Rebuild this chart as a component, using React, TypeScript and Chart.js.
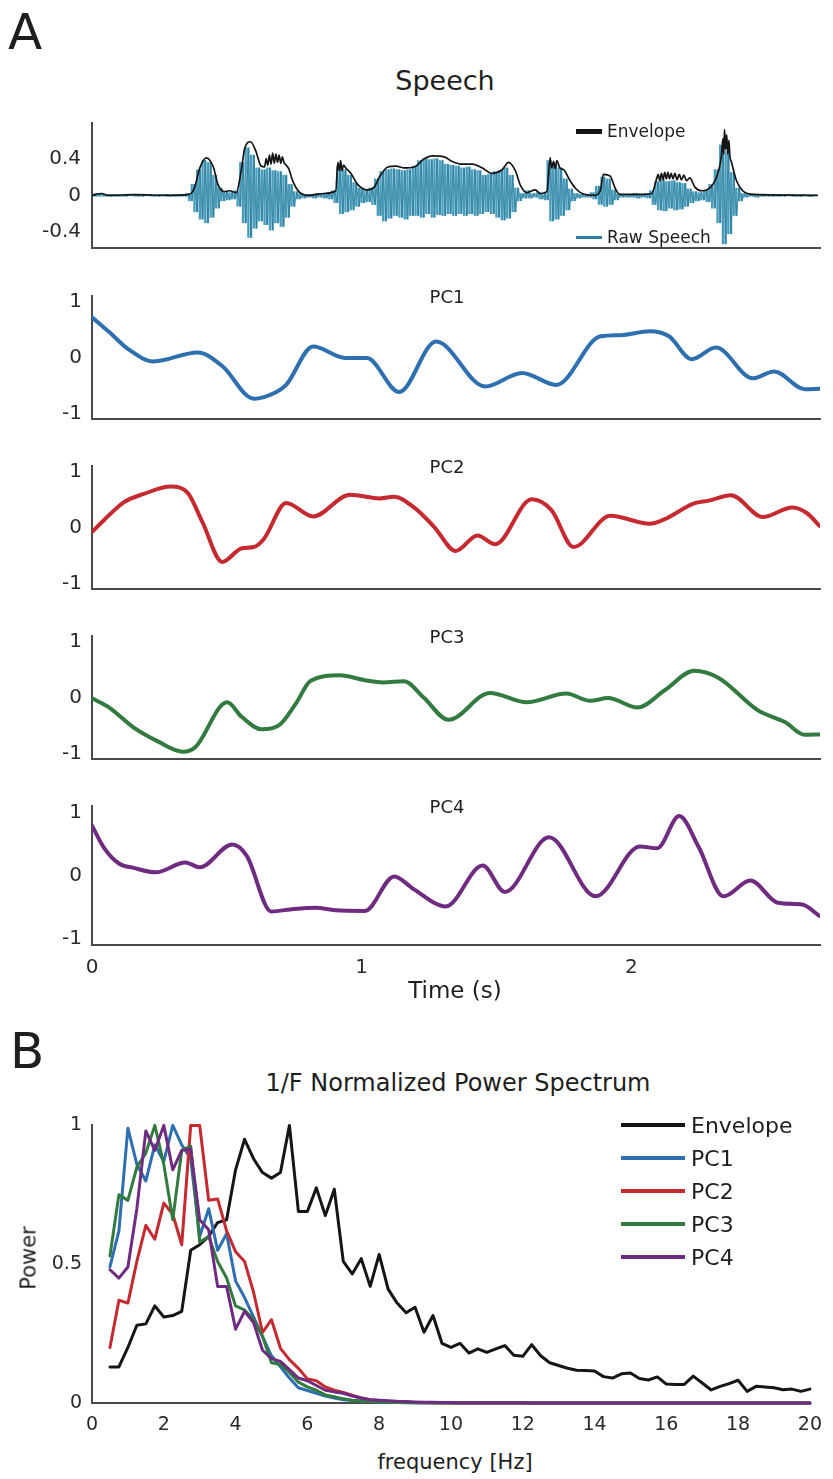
import React, { useEffect, useRef } from "react";
import { Chart, registerables } from "chart.js";
Chart.register(...registerables);

// ---------------- data ----------------
const TIME_TICKS = [0, 1, 2];
const SPEECH_TICKS = [-0.4, 0, 0.4];
const PC_TICKS = [-1, 0, 1];

// raw speech, decimated peak/trough sequence, one value every RAW_DT seconds
const RAW_DT = 0.01;
const RAW_SPEECH = [
  0.005, -0.01, 0.02, -0.01, 0.02, -0.01, 0.01, -0.01, 0.01, -0.01,
  0.01, -0.01, 0.005, -0.01, 0.01, -0.005, 0.01, -0.01, 0.005, -0.01,
  0.01, -0.005, 0.01, -0.01, 0.005, -0.01, 0.01, -0.005, 0.01, -0.01,
  0.005, -0.01, 0.01, -0.01, 0.01, -0.01, 0.02, -0.06, 0.12, -0.18,
  0.28, -0.26, 0.38, -0.3, 0.36, -0.24, 0.22, -0.14, 0.08, -0.06,
  0.04, -0.05, 0.03, -0.04, 0.05, -0.12, 0.36, -0.3, 0.52, -0.46,
  0.44, -0.36, 0.3, -0.28, 0.28, -0.32, 0.3, -0.38, 0.27, -0.3,
  0.26, -0.34, 0.22, -0.24, 0.12, -0.12, 0.04, -0.04, 0.02, -0.03,
  0.01, -0.02, 0.01, -0.03, 0.02, -0.02, 0.02, -0.03, 0.03, -0.04,
  0.05, -0.08, 0.32, -0.2, 0.28, -0.18, 0.22, -0.16, 0.14, -0.12,
  0.08, -0.08, 0.06, -0.07, 0.08, -0.1, 0.18, -0.22, 0.26, -0.28,
  0.28, -0.25, 0.29, -0.22, 0.28, -0.24, 0.27, -0.26, 0.28, -0.22,
  0.32, -0.22, 0.38, -0.24, 0.4, -0.2, 0.39, -0.24, 0.4, -0.21,
  0.38, -0.22, 0.34, -0.2, 0.33, -0.22, 0.32, -0.2, 0.3, -0.22,
  0.31, -0.2, 0.28, -0.22, 0.27, -0.2, 0.22, -0.18, 0.23, -0.2,
  0.26, -0.24, 0.27, -0.27, 0.3, -0.25, 0.22, -0.18, 0.08, -0.06,
  0.02, -0.03, 0.05, -0.03, 0.02, -0.02, 0.03, -0.04, 0.02, -0.05,
  0.38, -0.28, 0.33, -0.26, 0.3, -0.22, 0.18, -0.16, 0.07, -0.06,
  0.02, -0.03, 0.01, -0.02, 0.01, -0.02, 0.03, -0.04, 0.1, -0.1,
  0.2, -0.12, 0.18, -0.1, 0.06, -0.05, 0.01, -0.02, 0.01, -0.02,
  0.01, -0.02, 0.02, -0.03, 0.01, -0.02, 0.02, -0.03, 0.05, -0.1,
  0.15, -0.16, 0.17, -0.17, 0.15, -0.14, 0.16, -0.16, 0.14, -0.15,
  0.13, -0.12, 0.07, -0.08, 0.04, -0.06, 0.03, -0.05, 0.05, -0.07,
  0.12, -0.14, 0.28, -0.3, 0.55, -0.53, 0.48, -0.42, 0.25, -0.22,
  0.08, -0.06, 0.02, -0.02, 0.01, -0.01, 0.01, -0.02, 0.01, -0.01,
  0.01, -0.01, 0.005, -0.01, 0.01, -0.01, 0.005, -0.01, 0.01, -0.005,
  0.01, -0.01, 0.005, -0.01, 0.01, -0.005, 0.005, -0.01, 0.005, -0.005,
];

const ENV_T = [
  0, 0.036, 0.06, 0.16, 0.28, 0.36, 0.38, 0.4, 0.424, 0.45, 0.467, 0.49, 0.51, 0.535,
  0.554, 0.566, 0.588, 0.608, 0.627, 0.64, 0.646, 0.652, 0.658, 0.664, 0.67, 0.676, 0.682, 0.688, 0.694, 0.7, 0.706, 0.712, 0.72,
  0.73, 0.744, 0.769, 0.8, 0.862, 0.904, 0.912, 0.917, 0.922, 0.927, 0.933, 0.941, 0.96, 0.985,
  1.022, 1.047, 1.066, 1.097, 1.127, 1.158, 1.195, 1.232, 1.263, 1.306, 1.336, 1.373,
  1.41, 1.447, 1.484, 1.521, 1.545, 1.57, 1.589, 1.613, 1.644, 1.662, 1.687, 1.699, 1.705, 1.712, 1.718, 1.724, 1.735,
  1.749, 1.773, 1.792, 1.817, 1.866, 1.885, 1.897, 1.922, 1.94, 1.958, 2.026, 2.076,
  2.094, 2.1, 2.106, 2.112, 2.118, 2.124, 2.13, 2.136, 2.142, 2.148, 2.155, 2.162, 2.17, 2.178, 2.186, 2.195, 2.205, 2.217,
  2.236, 2.26, 2.291, 2.315, 2.334, 2.34, 2.343, 2.346, 2.35, 2.354, 2.358, 2.362, 2.366, 2.371, 2.389, 2.414, 2.457, 2.69,
];
const ENV_V = [
  0, 0.02, 0, 0.008, 0, 0.01, 0.08, 0.3, 0.41, 0.31, 0.12, 0.04, 0.05, 0.03,
  0.28, 0.51, 0.585, 0.48, 0.32, 0.31, 0.4, 0.33, 0.44, 0.34, 0.46, 0.35, 0.45, 0.36, 0.44, 0.35, 0.42, 0.36, 0.33,
  0.29, 0.16, 0.035, 0, 0.02, 0.05, 0.36, 0.27, 0.38, 0.27, 0.33, 0.3, 0.24, 0.12,
  0.06, 0.09, 0.2, 0.31, 0.32, 0.3, 0.31, 0.4, 0.43, 0.42, 0.37, 0.34,
  0.34, 0.3, 0.24, 0.28, 0.36, 0.27, 0.11, 0.03, 0.06, 0.02, 0.04, 0.41, 0.3, 0.37, 0.29, 0.38, 0.3,
  0.28, 0.16, 0.08, 0.02, 0, 0.05, 0.23, 0.21, 0.08, 0.01, 0.01, 0.02,
  0.18, 0.23, 0.16, 0.24, 0.17, 0.25, 0.18, 0.25, 0.18, 0.24, 0.18, 0.24, 0.17, 0.23, 0.17, 0.22, 0.16, 0.19,
  0.09, 0.05, 0.08, 0.19, 0.42, 0.62, 0.45, 0.72, 0.5, 0.66, 0.45, 0.6, 0.42, 0.37, 0.17, 0.05, 0.01, 0,
];

const PC1_T = [0, 0.064, 0.137, 0.228, 0.392, 0.483, 0.6, 0.684, 0.72, 0.82, 0.939, 1.02, 1.139, 1.276, 1.458, 1.595, 1.722, 1.886, 1.96, 2.069, 2.14, 2.224, 2.314, 2.451, 2.53, 2.643, 2.698];
const PC1_V = [0.72, 0.455, 0.14, -0.07, 0.09, -0.153, -0.737, -0.616, -0.49, 0.197, -0.007, -0.01, -0.616, 0.285, -0.518, -0.275, -0.49, 0.38, 0.4, 0.47, 0.38, -0.03, 0.178, -0.372, -0.25, -0.567, -0.56];

const PC2_T = [0, 0.046, 0.119, 0.192, 0.292, 0.355, 0.41, 0.483, 0.556, 0.6, 0.638, 0.72, 0.82, 0.957, 1.067, 1.121, 1.194, 1.268, 1.349, 1.43, 1.495, 1.631, 1.704, 1.786, 1.923, 2.069, 2.12, 2.233, 2.287, 2.37, 2.488, 2.597, 2.652, 2.698];
const PC2_V = [-0.08, 0.14, 0.455, 0.6, 0.733, 0.62, 0.09, -0.615, -0.37, -0.35, -0.2, 0.44, 0.197, 0.587, 0.52, 0.55, 0.36, 0.017, -0.42, -0.143, -0.3, 0.504, 0.31, -0.348, 0.21, 0.066, 0.14, 0.43, 0.48, 0.577, 0.187, 0.358, 0.255, 0.03];

const PC3_T = [0, 0.064, 0.155, 0.246, 0.337, 0.383, 0.501, 0.556, 0.629, 0.693, 0.756, 0.811, 0.92, 1.012, 1.08, 1.157, 1.23, 1.322, 1.476, 1.613, 1.759, 1.848, 1.914, 2.023, 2.124, 2.233, 2.324, 2.47, 2.57, 2.643, 2.698];
const PC3_V = [-0.015, -0.18, -0.54, -0.79, -0.97, -0.89, -0.087, -0.35, -0.57, -0.5, -0.11, 0.3, 0.396, 0.31, 0.27, 0.29, 0.0, -0.4, 0.08, -0.087, 0.07, -0.06, -0.01, -0.18, 0.13, 0.478, 0.35, -0.23, -0.44, -0.667, -0.66];

const PC4_T = [0, 0.046, 0.1, 0.155, 0.237, 0.346, 0.4, 0.52, 0.574, 0.665, 0.748, 0.83, 0.902, 1.012, 1.121, 1.194, 1.312, 1.449, 1.531, 1.695, 1.868, 2.032, 2.096, 2.178, 2.25, 2.342, 2.442, 2.543, 2.634, 2.698];
const PC4_V = [0.79, 0.43, 0.19, 0.12, 0.05, 0.205, 0.13, 0.49, 0.31, -0.57, -0.53, -0.51, -0.55, -0.56, -0.014, -0.22, -0.49, 0.157, -0.26, 0.605, -0.33, 0.46, 0.43, 0.94, 0.45, -0.33, -0.08, -0.43, -0.46, -0.64];

// power spectrum
const FREQ = [
  0.5, 0.75, 1, 1.25, 1.5, 1.75, 2, 2.25, 2.5, 2.75,
  3, 3.25, 3.5, 3.75, 4, 4.25, 4.5, 4.75, 5, 5.25,
  5.5, 5.75, 6, 6.25, 6.5, 6.75, 7, 7.25, 7.5, 7.75,
  8, 8.25, 8.5, 8.75, 9, 9.25, 9.5, 9.75, 10, 10.25,
  10.5, 10.75, 11, 11.25, 11.5, 11.75, 12, 12.25, 12.5, 12.75,
  13, 13.25, 13.5, 13.75, 14, 14.25, 14.5, 14.75, 15, 15.25,
  15.5, 15.75, 16, 16.25, 16.5, 16.75, 17, 17.25, 17.5, 17.75,
  18, 18.25, 18.5, 18.75, 19, 19.25, 19.5, 19.75, 20,
];
const FREQ_TICKS = [0, 2, 4, 6, 8, 10, 12, 14, 16, 18, 20];
const POWER_TICKS = [0, 0.5, 1];

const ENV_POWER = [
  0.13, 0.13, 0.2, 0.28, 0.285, 0.35, 0.31, 0.315, 0.33, 0.55,
  0.57, 0.6, 0.65, 0.66, 0.84, 0.95, 0.88, 0.83, 0.81, 0.83,
  1.0, 0.69, 0.69, 0.775, 0.675, 0.77, 0.51, 0.465, 0.52, 0.42,
  0.535, 0.41, 0.36, 0.325, 0.345, 0.255, 0.315, 0.215, 0.2, 0.215,
  0.18, 0.195, 0.182, 0.195, 0.207, 0.172, 0.168, 0.21, 0.17, 0.145,
  0.135, 0.125, 0.118, 0.117, 0.115, 0.095, 0.09, 0.105, 0.108, 0.088,
  0.083, 0.094, 0.068, 0.067, 0.067, 0.097, 0.072, 0.047, 0.06, 0.07,
  0.082, 0.042, 0.06, 0.058, 0.055, 0.048, 0.05, 0.042, 0.05,
];
const PC1_POWER = [
  0.49, 0.62, 0.99, 0.86, 0.8, 0.93, 0.87, 1.0, 0.93, 0.88,
  0.6, 0.7, 0.55, 0.61, 0.44, 0.38, 0.31, 0.24, 0.17, 0.13,
  0.09, 0.055, 0.045, 0.035, 0.025, 0.018, 0.012, 0.009, 0.007, 0.005,
  0.004, 0.003, 0.002, 0.002, 0.001, 0.001, 0.001, 0.001, 0.001, 0,
  0, 0, 0, 0, 0, 0, 0, 0, 0, 0,
  0, 0, 0, 0, 0, 0, 0, 0, 0, 0,
  0, 0, 0, 0, 0, 0, 0, 0, 0, 0,
  0, 0, 0, 0, 0, 0, 0, 0, 0,
];
const PC2_POWER = [
  0.2, 0.37, 0.36, 0.51, 0.64, 0.59, 0.72, 0.68, 0.57, 1.0,
  1.0, 0.73, 0.735, 0.62, 0.545, 0.51, 0.4, 0.254, 0.3, 0.197,
  0.156, 0.125, 0.087, 0.08, 0.058, 0.046, 0.038, 0.028, 0.018, 0.012,
  0.009, 0.006, 0.004, 0.003, 0.002, 0.001, 0.001, 0.001, 0, 0,
  0, 0, 0, 0, 0, 0, 0, 0, 0, 0,
  0, 0, 0, 0, 0, 0, 0, 0, 0, 0,
  0, 0, 0, 0, 0, 0, 0, 0, 0, 0,
  0, 0, 0, 0, 0, 0, 0, 0, 0,
];
const PC3_POWER = [
  0.53, 0.75, 0.73, 0.85, 0.9, 1.0, 0.86, 0.66, 0.91, 0.925,
  0.58, 0.6, 0.51, 0.45, 0.35, 0.335, 0.3, 0.24, 0.145, 0.139,
  0.11, 0.075, 0.058, 0.046, 0.029, 0.023, 0.015, 0.01, 0.007, 0.005,
  0.004, 0.003, 0.002, 0.001, 0.001, 0.001, 0, 0, 0, 0,
  0, 0, 0, 0, 0, 0, 0, 0, 0, 0,
  0, 0, 0, 0, 0, 0, 0, 0, 0, 0,
  0, 0, 0, 0, 0, 0, 0, 0, 0, 0,
  0, 0, 0, 0, 0, 0, 0, 0, 0,
];
const PC4_POWER = [
  0.48, 0.45, 0.49, 0.7, 0.98, 0.91, 1.0, 0.84, 0.91, 0.915,
  0.66, 0.624, 0.42, 0.42, 0.266, 0.33, 0.29, 0.19, 0.16, 0.15,
  0.12, 0.09, 0.08, 0.063, 0.046, 0.04, 0.035, 0.025, 0.018, 0.012,
  0.01, 0.008, 0.006, 0.005, 0.004, 0.003, 0.003, 0.002, 0.002, 0.001,
  0.001, 0.001, 0.001, 0.001, 0.001, 0.001, 0.001, 0, 0, 0,
  0, 0, 0, 0, 0, 0, 0, 0, 0, 0,
  0, 0, 0, 0, 0, 0, 0, 0, 0, 0,
  0, 0, 0, 0, 0, 0, 0, 0, 0,
];

// ---------------- styling ----------------
const FONT = "'DejaVu Sans', 'Liberation Sans', Arial, sans-serif";
const W = 833;
const AREA_LEFT = 92;
const AREA_RIGHT = 820;
const AXIS_COLOR = "#4a4a4a";
const TEXT_COLOR = "#2a2a2a";
const BLACK = "#151515";
const TEAL = "#2b7e9d";
const TEAL_LIGHT = "#4a9cba";
const BLUE = "#2e6fb0";
const RED = "#c42a30";
const GREEN = "#327a40";
const PURPLE = "#6e2b80";

function pts(xs: number[], ys: number[]) {
  return ys.map((y, i) => ({ x: xs[i], y }));
}

// vertical stroke from each peak to the following trough (waveform drawn as dense strokes)
function rawStrokes(vals: number[], dt: number) {
  const out: any[] = [];
  for (let i = 0; i < vals.length - 1; i++) {
    const a = vals[i];
    const b = vals[i + 1];
    out.push({ x: i * dt, y: [Math.min(a, b), Math.max(a, b)] });
  }
  return out;
}

type FrameOpts = {
  xMin: number; xMax: number; yMin: number; yMax: number;
  xTicks: number[]; yTicks: number[];
  padTop: number; bottomH: number;
  xPad?: number; yPad?: number; tickSize?: number;
};

function frameConfig(datasets: any[], o: FrameOpts): any {
  const tickFont = { family: FONT, size: o.tickSize ?? 20 };
  return {
    type: "line",
    data: { datasets },
    options: {
      responsive: false,
      maintainAspectRatio: false,
      animation: false,
      events: [],
      layout: { padding: { top: o.padTop, right: W - AREA_RIGHT, left: 0, bottom: 0 } },
      plugins: { legend: { display: false }, tooltip: { enabled: false }, title: { display: false } },
      elements: { point: { radius: 0 }, line: { borderJoinStyle: "round", borderCapStyle: "round" } },
      scales: {
        x: {
          type: "linear",
          min: o.xMin,
          max: o.xMax,
          offset: false,
          grid: { display: false, drawTicks: false, offset: false },
          border: { display: true, color: AXIS_COLOR, width: 2 },
          ticks: {
            display: o.xTicks.length > 0,
            padding: o.xPad ?? 10,
            color: TEXT_COLOR,
            font: tickFont,
            maxRotation: 0,
            autoSkip: false,
            callback: (v: any) => String(v),
          },
          afterBuildTicks: (s: any) => { s.ticks = o.xTicks.map((v) => ({ value: v })); },
          afterFit: (s: any) => { s.height = o.bottomH; },
        },
        y: {
          type: "linear",
          min: o.yMin,
          max: o.yMax,
          grid: { display: false, drawTicks: false },
          border: { display: true, color: AXIS_COLOR, width: 2 },
          ticks: {
            padding: o.yPad ?? 10,
            color: TEXT_COLOR,
            font: tickFont,
            autoSkip: false,
            callback: (v: any) => String(v),
          },
          afterBuildTicks: (s: any) => { s.ticks = o.yTicks.map((v) => ({ value: v })); },
          afterFit: (s: any) => { s.width = AREA_LEFT; },
        },
      },
    },
  };
}

function ChartCanvas({ top, height, make }: { top: number; height: number; make: () => any }) {
  const ref = useRef<HTMLCanvasElement>(null);
  useEffect(() => {
    const chart = new Chart(ref.current as HTMLCanvasElement, make());
    return () => chart.destroy();
  }, []);
  return (
    <canvas
      ref={ref}
      width={W}
      height={height}
      style={{ position: "absolute", left: 0, top, width: W, height, display: "block" }}
    />
  );
}

function Txt({ children, x, y, size, anchor = "center", style = {} }: any) {
  const tx = anchor === "left" ? "0" : "-50%";
  return (
    <div
      style={{
        position: "absolute",
        left: x,
        top: y,
        transform: `translate(${tx}, -50%)`,
        fontSize: size,
        lineHeight: 1,
        whiteSpace: "nowrap",
        color: "#1e1e1e",
        ...style,
      }}
    >
      {children}
    </div>
  );
}

const SPEECH_TOP = 108;
const SPEECH_BOTTOM = 265;
const PC_TOPS = [282, 452, 622, 792];
const PC_H = 153;
const B_TOP = 1116;
const B_BOTTOM = 1403;

const PCS = [
  { name: "PC1", t: PC1_T, v: PC1_V, color: BLUE },
  { name: "PC2", t: PC2_T, v: PC2_V, color: RED },
  { name: "PC3", t: PC3_T, v: PC3_V, color: GREEN },
  { name: "PC4", t: PC4_T, v: PC4_V, color: PURPLE },
];

const B_SERIES = [
  { name: "Envelope", v: ENV_POWER, color: BLACK, order: 5 },
  { name: "PC1", v: PC1_POWER, color: BLUE, order: 4 },
  { name: "PC2", v: PC2_POWER, color: RED, order: 3 },
  { name: "PC3", v: PC3_POWER, color: GREEN, order: 2 },
  { name: "PC4", v: PC4_POWER, color: PURPLE, order: 1 },
];

export default function App() {
  useEffect(() => {
    document.body.style.margin = "0";
    document.body.style.background = "#ffffff";
  }, []);

  const speechPad = 8;
  const speechBottomH = 6;

  return (
    <div
      style={{
        position: "absolute",
        left: 0,
        top: 0,
        width: W,
        height: 1479,
        overflow: "hidden",
        background: "#ffffff",
        fontFamily: FONT,
      }}
    >
      {/* Panel A */}
      <Txt x={8} y={32} size={50} anchor="left">A</Txt>
      <Txt x={445} y={80} size={27}>Speech</Txt>

      <ChartCanvas
        top={SPEECH_TOP - speechPad}
        height={speechPad + (SPEECH_BOTTOM - SPEECH_TOP) + speechBottomH}
        make={() =>
          frameConfig(
            [
              {
                data: pts(ENV_T, ENV_V),
                borderColor: BLACK,
                borderWidth: 1.7,
                cubicInterpolationMode: "monotone",
                order: 0,
              },
              {
                data: RAW_SPEECH.map((v, i) => ({ x: i * RAW_DT, y: v })),
                borderColor: TEAL,
                borderWidth: 0.8,
                tension: 0,
                order: 1,
              },
              {
                type: "bar",
                data: rawStrokes(RAW_SPEECH, RAW_DT),
                backgroundColor: TEAL_LIGHT,
                borderWidth: 0,
                barThickness: 1.7,
                grouped: false,
                order: 2,
              },
            ],
            {
              xMin: 0, xMax: 2.7, yMin: -0.575, yMax: 0.79,
              xTicks: [], yTicks: SPEECH_TICKS,
              padTop: speechPad, bottomH: speechBottomH, yPad: 11,
            }
          )
        }
      />
      <div style={{ position: "absolute", left: 576, top: 129, width: 26, height: 5, background: BLACK }} />
      <Txt x={607} y={131} size={17} anchor="left">Envelope</Txt>
      <div style={{ position: "absolute", left: 576, top: 236, width: 26, height: 3, background: TEAL }} />
      <Txt x={607} y={237} size={17} anchor="left">Raw Speech</Txt>

      {PCS.map((pc, k) => {
        const top = PC_TOPS[k];
        const last = k === PCS.length - 1;
        const bottomH = last ? 42 : 6;
        return (
          <React.Fragment key={pc.name}>
            <ChartCanvas
              top={top - 8}
              height={8 + PC_H + bottomH}
              make={() =>
                frameConfig(
                  [
                    {
                      data: pts(pc.t, pc.v),
                      borderColor: pc.color,
                      borderWidth: 4,
                      cubicInterpolationMode: "monotone",
                    },
                  ],
                  {
                    xMin: 0, xMax: 2.7, yMin: -1.1, yMax: 1.1,
                    xTicks: last ? TIME_TICKS : [], yTicks: PC_TICKS,
                    padTop: 8, bottomH, xPad: 11, yPad: 10,
                  }
                )
              }
            />
            <Txt x={447} y={top + 15} size={18}>{pc.name}</Txt>
          </React.Fragment>
        );
      })}
      <Txt x={455} y={990} size={23}>Time (s)</Txt>

      {/* Panel B */}
      <Txt x={10} y={1051} size={50} anchor="left">B</Txt>
      <Txt x={458} y={1083} size={24}>1/F Normalized Power Spectrum</Txt>

      <ChartCanvas
        top={B_TOP - 12}
        height={12 + (B_BOTTOM - B_TOP) + 44}
        make={() =>
          frameConfig(
            B_SERIES.map((s) => ({
              data: pts(FREQ, s.v),
              borderColor: s.color,
              borderWidth: 3,
              tension: 0,
              order: s.order,
              clip: 8,
            })),
            {
              xMin: 0, xMax: 20, yMin: 0, yMax: 1,
              xTicks: FREQ_TICKS, yTicks: POWER_TICKS,
              padTop: 12, bottomH: 44, xPad: 11, yPad: 10, tickSize: 19,
            }
          )
        }
      />
      {B_SERIES.map((s, i) => (
        <React.Fragment key={s.name}>
          <div
            style={{
              position: "absolute",
              left: 621,
              top: 1125 + i * 33 - 2,
              width: 64,
              height: 4,
              background: s.color,
            }}
          />
          <Txt x={691} y={1126 + i * 33} size={22} anchor="left">{s.name}</Txt>
        </React.Fragment>
      ))}
      <Txt x={29} y={1258} size={21} style={{ transform: "translate(-50%, -50%) rotate(-90deg)" }}>Power</Txt>
      <Txt x={455} y={1462} size={21}>frequency [Hz]</Txt>
    </div>
  );
}
